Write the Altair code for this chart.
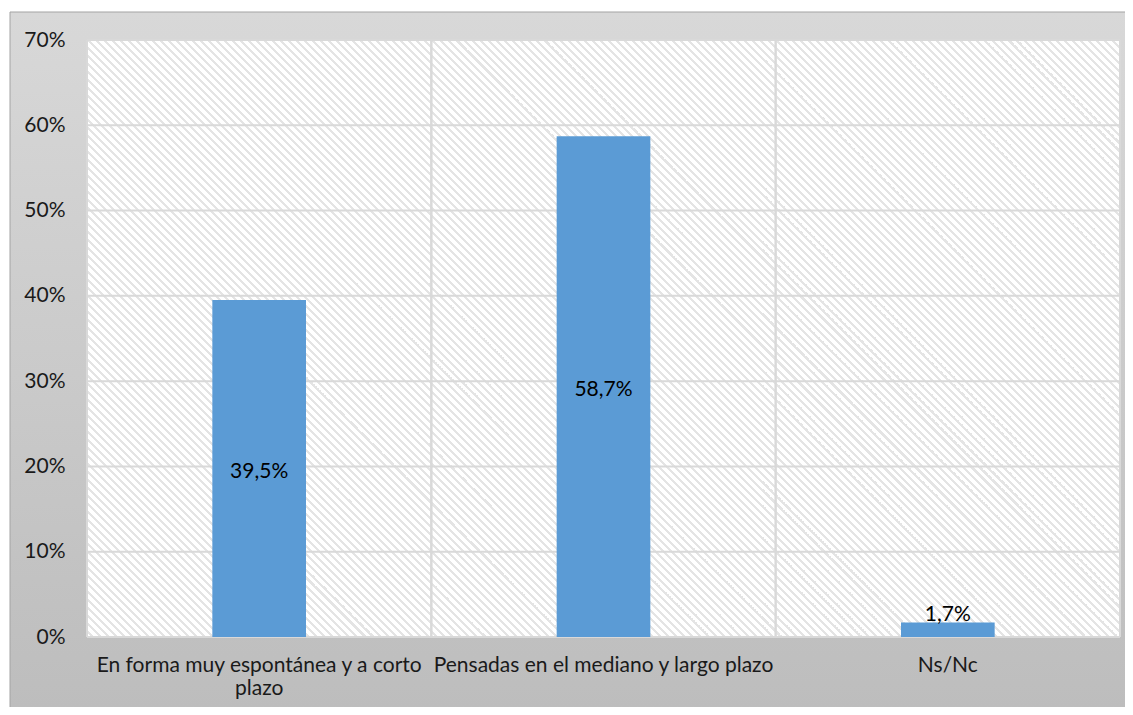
import json
import math
import altair as alt
import pandas as pd

# ---- data ----
categories = [
    "En forma muy espontánea y a corto plazo",
    "Pensadas en el mediano y largo plazo",
    "Ns/Nc",
]
values = [39.5, 58.7, 1.7]
label_lines = [
    ["En forma muy espontánea y a corto", "plazo"],
    ["Pensadas en el mediano y largo plazo"],
    ["Ns/Nc"],
]
y_ticks = [0, 10, 20, 30, 40, 50, 60, 70]

# ---- layout / style ----
W, H = 1033, 597
PAD = {"left": 79, "top": 32, "right": 5, "bottom": 70}
FONT = "Lato"
FS = 21
TEXT_COLOR = "#1a1a1a"
BAR_COLOR = "#5B9BD5"
GRID_COLOR = "#d9d9d9"

df = pd.DataFrame({"cat": categories, "value": values})
ticks_df = pd.DataFrame({"value": y_ticks})

x_scale = alt.Scale(domain=categories, paddingInner=0, paddingOuter=0)
y_scale = alt.Scale(domain=[0, 70], nice=False, zero=True)

label_map = {c: l for c, l in zip(categories, label_lines)}
x_label_expr = json.dumps(label_map, ensure_ascii=False) + "[datum.value]"

x_axis = alt.Axis(
    title=None, labelAngle=0, labelExpr=x_label_expr, labelFont=FONT,
    labelFontSize=FS, labelColor=TEXT_COLOR, labelPadding=17,
    labelLineHeight=23, labelBaseline="top", labelLimit=0,
    domain=False, ticks=False, grid=False, zindex=1,
)
y_axis = alt.Axis(
    title=None, values=y_ticks, labelExpr="datum.value + '%'", labelFont=FONT,
    labelFontSize=FS, labelColor=TEXT_COLOR, labelPadding=22,
    domain=False, ticks=False, grid=False, zindex=1,
)

# outer gradient panel
outer_grad = alt.LinearGradient(
    gradient="linear", x1=0, y1=0, x2=0, y2=1,
    stops=[alt.GradientStop(offset=0, color="#d8d8d8"),
           alt.GradientStop(offset=1, color="#bdbdbd")],
)

# diagonal hatch for the plot area (stripes running top-left -> bottom-right)
d2 = W * W + H * H
ex = W * (W + H) / d2
ey = 1 - H * (W + H) / d2
period = 8.0 / (W + H)
n = int(math.ceil(1 / period))
HATCH = "#e4e4e4"
stops = []
for k in range(n):
    t0 = k * period
    a = min(t0 + 0.6 * period, 1.0)
    b = min(t0 + period, 1.0)
    stops += [
        alt.GradientStop(offset=min(t0, 1.0), color="#ffffff"),
        alt.GradientStop(offset=a, color="#ffffff"),
        alt.GradientStop(offset=a, color=HATCH),
        alt.GradientStop(offset=b, color=HATCH),
    ]
hatch_grad = alt.LinearGradient(gradient="linear", x1=0, y1=1, x2=ex, y2=ey, stops=stops)

one = alt.Data(values=[{}])

outer = alt.Chart(one).mark_rect(fill=outer_grad, stroke="#a3a3a3", strokeWidth=1).encode(
    x=alt.value(-77), x2=alt.value(W + PAD["right"] + 2),
    y=alt.value(-28), y2=alt.value(H + PAD["bottom"] + 2),
)
plotbg = alt.Chart(one).mark_rect(fill=hatch_grad).encode(
    x=alt.value(0), x2=alt.value(W), y=alt.value(0), y2=alt.value(H),
)

X = lambda bp=None: (alt.X("cat:N", scale=x_scale, axis=x_axis, bandPosition=bp)
                     if bp is not None else alt.X("cat:N", scale=x_scale, axis=x_axis))

hgrid = alt.Chart(ticks_df).mark_rule(color=GRID_COLOR, strokeWidth=2).encode(
    y=alt.Y("value:Q", scale=y_scale, axis=y_axis)
)
vgrid0 = alt.Chart(df).mark_rule(color=GRID_COLOR, strokeWidth=2).encode(x=X(0))
vgrid1 = alt.Chart(df).mark_rule(color=GRID_COLOR, strokeWidth=2).encode(x=X(1))

bars = alt.Chart(df).mark_bar(color=BAR_COLOR, width=alt.RelativeBandSize(band=0.272)).encode(
    x=X(), y=alt.Y("value:Q", scale=y_scale, axis=y_axis)
)

label_calc = "replace(format(datum.value, '.1f'), '.', ',') + '%'"
text_mid = alt.Chart(df).transform_filter("datum.value >= 5").transform_calculate(
    mid="datum.value / 2", label=label_calc
).mark_text(baseline="middle", dy=3, font=FONT, fontSize=FS, color="#000000").encode(
    x=X(), y=alt.Y("mid:Q", scale=y_scale, axis=y_axis), text="label:N"
)
text_top = alt.Chart(df).transform_filter("datum.value < 5").transform_calculate(
    label=label_calc
).mark_text(baseline="bottom", dy=2, font=FONT, fontSize=FS, color="#000000").encode(
    x=X(), y=alt.Y("value:Q", scale=y_scale, axis=y_axis), text="label:N"
)

chart = alt.layer(outer, plotbg, hgrid, vgrid0, vgrid1, bars, text_mid, text_top).properties(
    width=W, height=H, autosize=alt.AutoSizeParams(type="none"), padding=PAD,
).configure_view(strokeWidth=0).configure(background="#ffffff")

chart.save("out.html", embed_options={"renderer": "svg", "actions": False})
